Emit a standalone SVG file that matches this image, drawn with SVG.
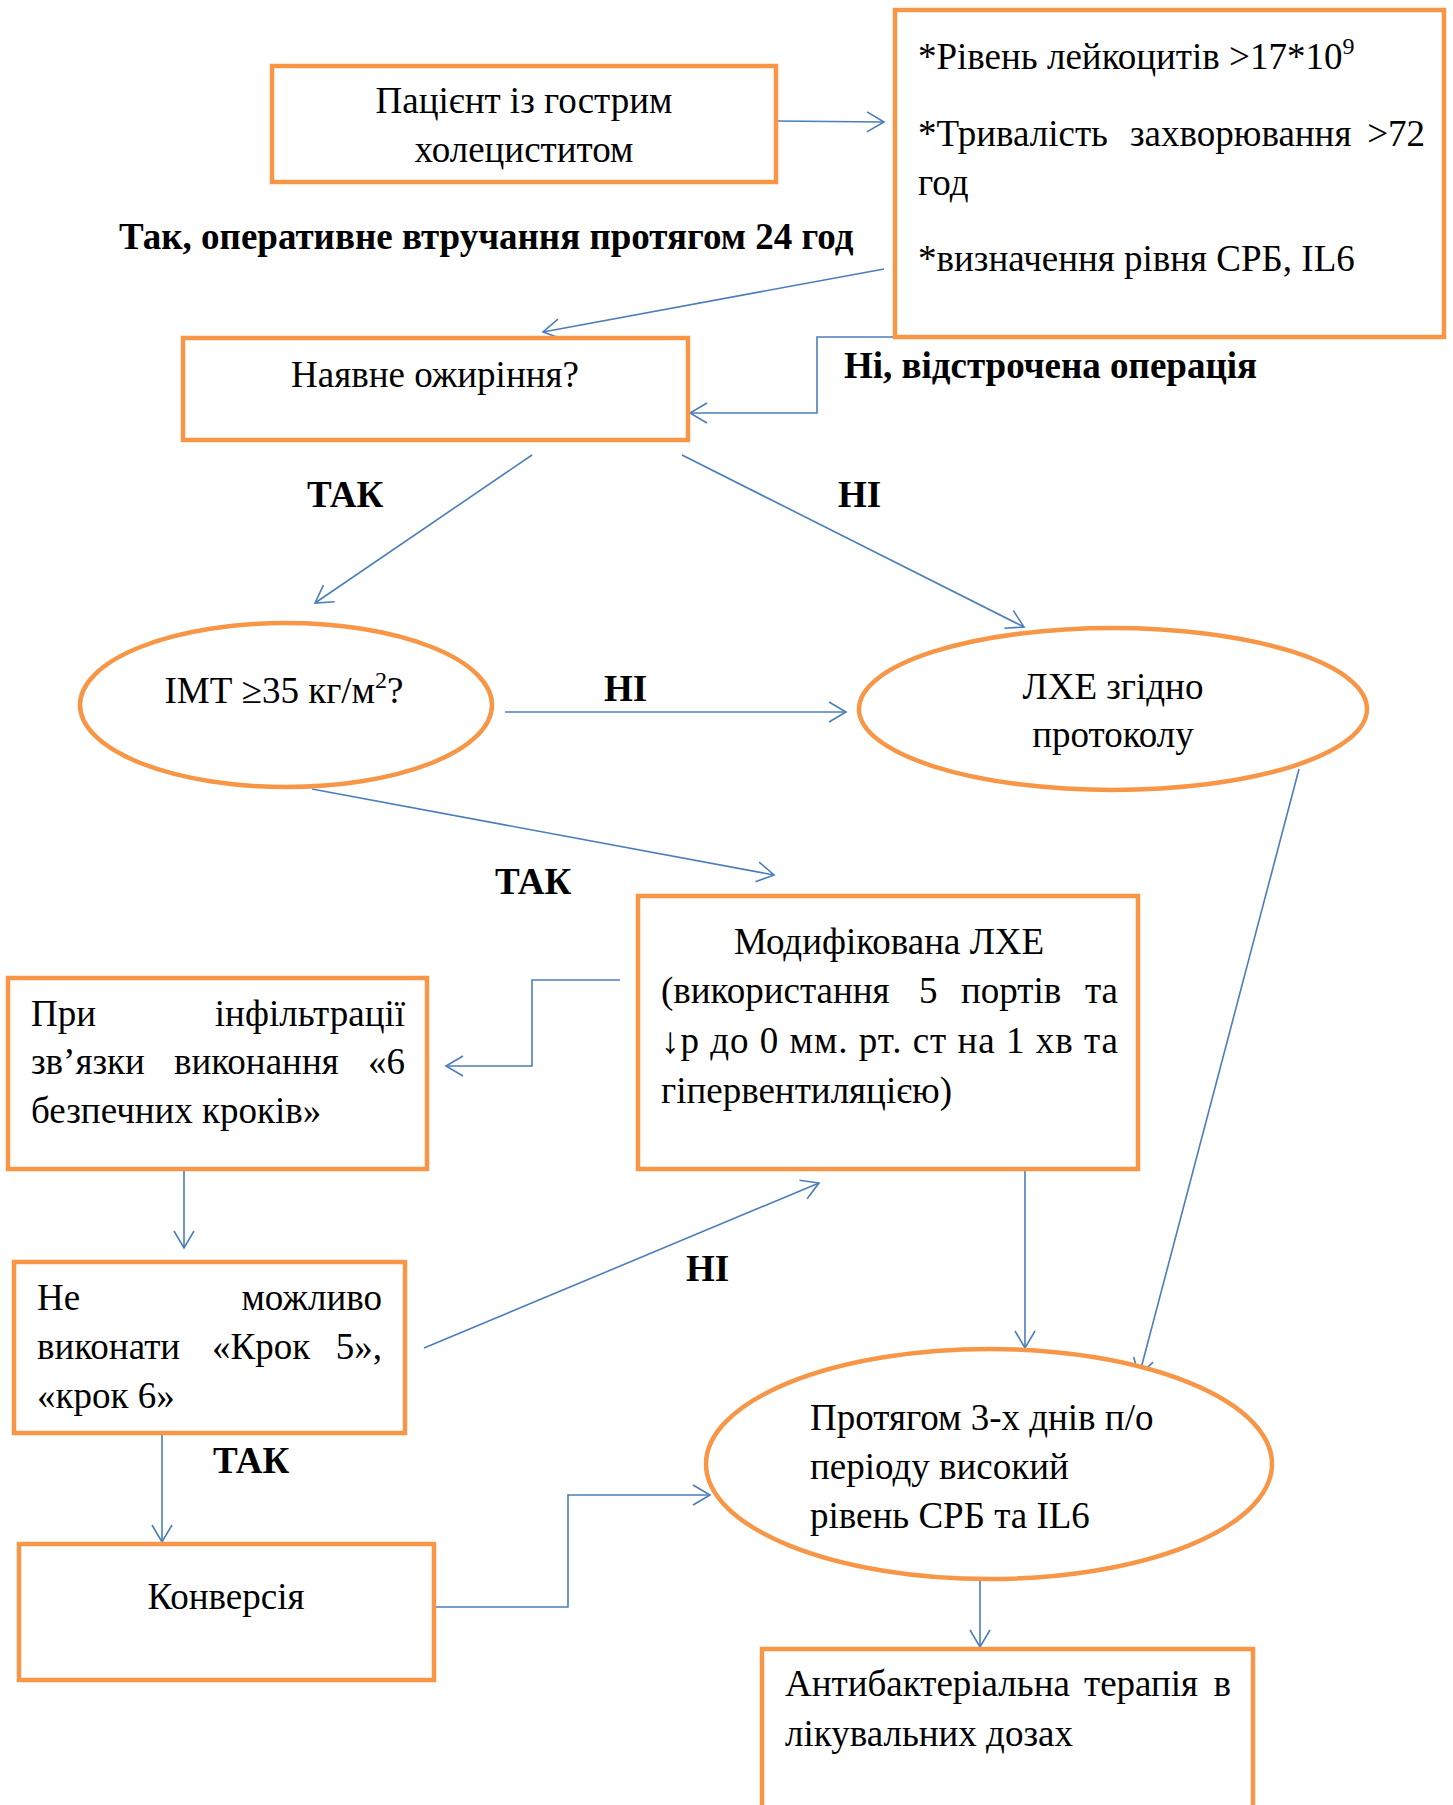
<svg xmlns="http://www.w3.org/2000/svg" width="1453" height="1805" viewBox="0 0 1453 1805">
<style>
.box{fill:#fff;stroke:#F79646;stroke-width:4.5}
.t{font-family:"Liberation Serif","Times New Roman",serif;font-size:37px;fill:#000}
.c{text-anchor:middle}
.e{text-anchor:end}
.b{font-family:"Liberation Serif","Times New Roman",serif;font-size:37px;font-weight:bold;fill:#000}
.ln{fill:none;stroke:#4A7EBB;stroke-width:1.6;marker-end:url(#ah)}
</style>
<defs>
<marker id="ah" markerUnits="userSpaceOnUse" viewBox="-20 -12 22 24" refX="0" refY="0" markerWidth="22" markerHeight="24" orient="auto">
<path d="M-17,-10 L0,0 L-17,10" fill="none" stroke="#4A7EBB" stroke-width="1.6"/>
</marker>
</defs>
<rect width="1453" height="1805" fill="#fff"/>

<g id="connectors">
<path class="ln" d="M776,121 L884,122"/>
<path class="ln" d="M884,269 L543,332"/>
<path class="ln" d="M945,337 L817,337 L817,413 L690,413"/>
<path class="ln" d="M532,455 L315,603"/>
<path class="ln" d="M682,455 L1024,627"/>
<path class="ln" d="M505,712 L846,712"/>
<path class="ln" d="M312,789 L774,875"/>
<path class="ln" d="M1299,769 L1139,1376"/>
<path class="ln" d="M620,980 L532,980 L532,1066 L446,1066"/>
<path class="ln" d="M184,1170 L184,1248"/>
<path class="ln" d="M424,1348 L819,1183"/>
<path class="ln" d="M1025,1169 L1025,1348"/>
<path class="ln" d="M162,1433 L162,1542"/>
<path class="ln" d="M436,1607 L568,1607 L568,1495 L710,1495"/>
<path class="ln" d="M980,1580 L980,1647"/>
</g>

<g id="labels">
<text class="b" x="119" y="249">Так, оперативне втручання протягом 24 год</text>
<text class="b" x="844" y="378">Ні, відстрочена операція</text>
<text class="b" x="307" y="507">ТАК</text>
<text class="b" x="838" y="507">НІ</text>
<text class="b" x="604" y="701">НІ</text>
<text class="b" x="495" y="894">ТАК</text>
<text class="b" x="686" y="1281">НІ</text>
<text class="b" x="213" y="1473">ТАК</text>
</g>

<g id="patient">
<rect class="box" x="272" y="66" width="504" height="116"/>
<text class="t c" x="524" y="113">Пацієнт із гострим</text>
<text class="t c" x="524" y="162">холециститом</text>
</g>

<g id="criteria">
<rect class="box" x="895" y="10" width="549" height="327"/>
<text class="t" x="918" y="69">*Рівень лейкоцитів &gt;17*10<tspan dy="-15" font-size="24">9</tspan></text>
<text class="t" x="918" y="146">*Тривалість</text>
<text class="t" x="1130" y="146">захворювання</text>
<text class="t e" x="1425" y="146">&gt;72</text>
<text class="t" x="918" y="195">год</text>
<text class="t" x="918" y="271">*визначення рівня СРБ, IL6</text>
</g>

<g id="obesity">
<rect class="box" x="183" y="338" width="505" height="102"/>
<text class="t c" x="435" y="387">Наявне ожиріння?</text>
</g>

<g id="bmi">
<ellipse class="box" cx="286" cy="705" rx="206" ry="82"/>
<text class="t c" x="284" y="703">ІМТ ≥35 кг/м<tspan dy="-15" font-size="24">2</tspan><tspan dy="15">?</tspan></text>
</g>

<g id="lche">
<ellipse class="box" cx="1113" cy="709" rx="254" ry="81"/>
<text class="t c" x="1113" y="699">ЛХЕ згідно</text>
<text class="t c" x="1113" y="747">протоколу</text>
</g>

<g id="modified">
<rect class="box" x="638" y="896" width="500" height="273"/>
<text class="t c" x="889" y="954">Модифікована ЛХЕ</text>
<text class="t" x="661" y="1003">(використання</text>
<text class="t" x="919" y="1003">5</text>
<text class="t" x="961" y="1003">портів</text>
<text class="t e" x="1118" y="1003">та</text>
<text class="t" x="661" y="1053" textLength="457" lengthAdjust="spacing">↓р до 0 мм. рт. ст на 1 хв та</text>
<text class="t" x="661" y="1103">гіпервентиляцією)</text>
</g>

<g id="infiltration">
<rect class="box" x="8" y="978" width="419" height="191"/>
<text class="t" x="31" y="1026">При</text>
<text class="t e" x="405" y="1026">інфільтрації</text>
<text class="t" x="31" y="1074">зв’язки</text>
<text class="t" x="174" y="1074">виконання</text>
<text class="t e" x="405" y="1074">«6</text>
<text class="t" x="31" y="1123">безпечних кроків»</text>
</g>

<g id="impossible">
<rect class="box" x="14" y="1262" width="391" height="171"/>
<text class="t" x="37" y="1310">Не</text>
<text class="t e" x="382" y="1310">можливо</text>
<text class="t" x="37" y="1359">виконати</text>
<text class="t" x="212" y="1359">«Крок</text>
<text class="t e" x="382" y="1359">5»,</text>
<text class="t" x="37" y="1408">«крок 6»</text>
</g>

<g id="conversion">
<rect class="box" x="19" y="1544" width="415" height="136"/>
<text class="t c" x="226" y="1609">Конверсія</text>
</g>

<g id="postop">
<ellipse class="box" cx="989" cy="1464" rx="283" ry="115"/>
<text class="t" x="810" y="1430">Протягом 3-х днів п/о</text>
<text class="t" x="810" y="1479">періоду високий</text>
<text class="t" x="810" y="1528">рівень СРБ та IL6</text>
</g>

<g id="antibiotic">
<rect class="box" x="762" y="1649" width="491" height="200"/>
<text class="t" x="785" y="1696">Антибактеріальна</text>
<text class="t" x="1084" y="1696">терапія</text>
<text class="t e" x="1231" y="1696">в</text>
<text class="t" x="785" y="1746">лікувальних дозах</text>
</g>
</svg>
